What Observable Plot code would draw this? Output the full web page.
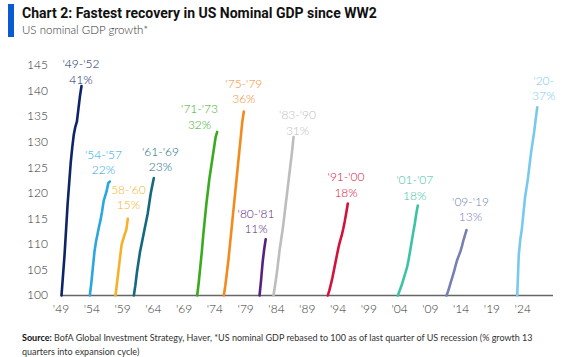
<!DOCTYPE html>
<html>
<head>
<meta charset="utf-8">
<script src="https://cdn.jsdelivr.net/npm/d3@7"></script>
<script src="https://cdn.jsdelivr.net/npm/@observablehq/plot@0.6"></script>
<style>
  html, body { margin: 0; padding: 0; background: #fff; }
  #wrap { position: relative; width: 566px; height: 357px; overflow: hidden; font-family: Lato, "Open Sans", sans-serif; }
  #bar { position: absolute; left: 8px; top: 4px; width: 6px; height: 33px; background: #0b5bd0; }
  #title { position: absolute; left: 22px; top: 5px; font-family: "Liberation Sans Narrow", "Roboto", sans-serif; font-weight: bold; font-size: 14px; line-height: 17px; color: #111; white-space: nowrap; }
  #subtitle { position: absolute; left: 22px; top: 22px; font-size: 11.5px; line-height: 15px; font-weight: 300; color: #333; white-space: nowrap; }
  #chart { position: absolute; left: 0; top: 42px; }
  #footer { position: absolute; left: 22px; top: 331px; font-size: 9px; line-height: 14px; color: #333; white-space: nowrap; }
  #footer b { color: #111; }
</style>
</head>
<body>
<div id="wrap">
  <div id="bar"></div>
  <div id="title">Chart 2: Fastest recovery in US Nominal GDP since WW2</div>
  <div id="subtitle">US nominal GDP growth*</div>
  <div id="chart"></div>
  <div id="footer"><b>Source:</b> BofA Global Investment Strategy, Haver, *US nominal GDP rebased to 100 as of last quarter of US recession (% growth 13<br>quarters into expansion cycle)</div>
</div>
<script>
// Cycle names and 13-quarter growth
const cycleNames = ["'49-'52", "'54-'57", "58-'60", "'61-'69", "'71-'73", "'75-'79", "'80-'81", "'83-'90", "'91-'00", "'01-'07", "'09-'19", "'20-"];
const growthText = ["41%", "22%", "15%", "23%", "32%", "36%", "11%", "31%", "18%", "18%", "13%", "37%"];
// Position of each cycle's start on the year axis, as drawn
const cycleStart = [1949.08, 1953.68, 1957.85, 1960.83, 1971.12, 1975.45, 1981.25, 1983.52, 1992.34, 2003.71, 2011.62, 2023.11];

// Quarterly nominal GDP, rebased to 100 at recession trough
const gdp1949 = [100, 104, 108, 113, 118, 122, 126, 129, 131.5, 133, 134, 136.5, 139, 141];
const gdp1954 = [100, 102.5, 105.5, 108.5, 110.5, 112, 113.5, 114.8, 116.5, 118.5, 119.5, 120.5, 122, 122.3];
const gdp1958 = [100, 102.5, 105, 107.5, 110, 111, 112, 112.8, 115];
const gdp1961 = [100, 102, 104.5, 106.5, 108.5, 110, 111.5, 113, 114.5, 116, 118, 120, 121.5, 123];
const gdp1971 = [100, 102.5, 105.5, 108.5, 112, 115, 118, 120.5, 123, 125, 127, 129, 131, 132];
const gdp1975 = [100, 102, 104.5, 107, 110, 113, 116, 119, 122, 125, 128, 131, 134, 136];
const gdp1980 = [100, 103, 106.5, 109, 111];
const gdp1983 = [100, 102, 104, 106.5, 109, 111, 113, 115.5, 118, 120.5, 123, 125.5, 128, 131];
const gdp1991 = [100, 101, 102.2, 103.5, 105, 106.5, 108, 109.5, 110.7, 111.7, 113, 114.5, 116.2, 118];
const gdp2001 = [100, 100.8, 101.6, 102.5, 103.5, 104.5, 105.5, 107, 108.7, 110.5, 112.3, 114, 116, 117.6];
const gdp2009 = [100, 100.8, 101.8, 102.8, 103.8, 104.8, 106, 107, 107.8, 108.6, 109.6, 110.8, 111.8, 112.8];
const gdp2020 = [100, 108, 111, 113, 116, 119, 121, 123, 125.5, 128, 130, 132, 134.5, 136.8];

// Where each annotation sits (year axis, index value)
const labelYear = [1952.25, 1955.9, 1959.96, 1965.16, 1971.5, 1978.7, 1980.68, 1987.42, 1995.3, 2006.46, 2015.52, 2027.4];
const labelValue = [143.9, 126.2, 119.4, 126.8, 135.1, 140.1, 114.7, 133.9, 121.8, 121.2, 117.0, 140.7];

// Axes
const xTicks = [1949, 1954, 1959, 1964, 1969, 1974, 1979, 1984, 1989, 1994, 1999, 2004, 2009, 2014, 2019, 2024];
const xTickLabels = ["'49", "'54", "'59", "'64", "'69", "'74", "'79", "'84", "'89", "'94", "'99", "'04", "'09", "'14", "'19", "'24"];
const yTicks = [100, 105, 110, 115, 120, 125, 130, 135, 140, 145];

const palette = ["#0e2468", "#2aa6e2", "#f5b228", "#13697f", "#3aab1f", "#f4891c", "#55237f", "#bdbdbd", "#d3123c", "#3cc3a3", "#7680b3", "#79c9ef"];

const series = [gdp1949, gdp1954, gdp1958, gdp1961, gdp1971, gdp1975, gdp1980, gdp1983, gdp1991, gdp2001, gdp2009, gdp2020];
const rows = series.flatMap((vals, i) => vals.map((v, q) => ({cycle: cycleNames[i], x: cycleStart[i] + q / 4, y: v})));
const labels = cycleNames.map((c, i) => ({cycle: c, x: labelYear[i], y: labelValue[i], text: c + "\n" + growthText[i]}));

const chart = Plot.plot({
  width: 566,
  height: 283,
  marginLeft: 60.5,
  marginRight: 13,
  marginTop: 23,
  marginBottom: 30,
  style: {fontFamily: "Lato, 'Open Sans', sans-serif", fontSize: "12px", color: "#333", background: "transparent"},
  x: {domain: [1949, 2029]},
  y: {domain: [100, 145]},
  color: {domain: cycleNames, range: palette},
  marks: [
    Plot.axisX({ticks: xTicks, tickFormat: (d) => xTickLabels[xTicks.indexOf(d)], tickSize: 0, tickPadding: 9, label: null, fontSize: 12, fontWeight: 300}),
    Plot.axisY({ticks: yTicks, tickSize: 0, tickPadding: 13, label: null, fontSize: 12, fontWeight: 300}),
    Plot.ruleY([100], {stroke: "#666", strokeWidth: 1.5}),
    Plot.line(rows, {x: "x", y: "y", z: "cycle", stroke: "cycle", strokeWidth: 2.6, strokeLinecap: "round", strokeLinejoin: "round", curve: "linear"}),
    Plot.text(labels, {x: "x", y: "y", text: "text", fill: "cycle", fontSize: 12, fontWeight: 300, lineHeight: 1.3, textAnchor: "middle", lineAnchor: "middle"})
  ]
});
document.getElementById("chart").appendChild(chart);
</script>
</body>
</html>
